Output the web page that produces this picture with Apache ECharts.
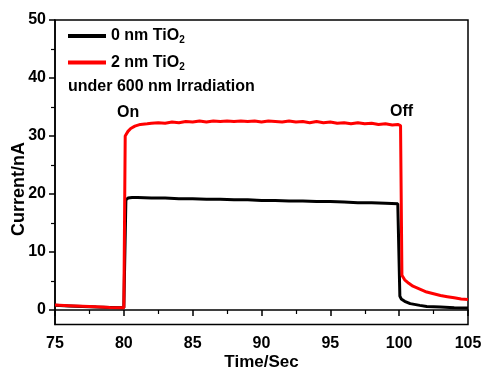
<!DOCTYPE html>
<html>
<head>
<meta charset="utf-8">
<script src="https://cdn.jsdelivr.net/npm/echarts@6/dist/echarts.min.js"></script>
<style>
  html, body { margin: 0; padding: 0; background: #fff; }
  #chart { width: 483px; height: 368px; }
</style>
</head>
<body>
<div id="chart"></div>
<script>
// time (s) and current (nA)
var timeBare = [75, 76, 77, 78, 79, 80, 80.08, 80.15, 80.3, 80.6, 81, 82, 83, 84, 85, 86, 87, 88, 89, 90,
  91, 92, 93, 94, 95, 96, 97, 98, 99, 99.9, 100.0, 100.05, 100.15, 100.4, 100.8, 101.5, 102, 103, 104, 105];
var currentBare = [0.8, 0.7, 0.6, 0.5, 0.45, 0.4, 0.4, 19.0, 19.3, 19.4, 19.4, 19.3, 19.3, 19.2, 19.2, 19.1, 19.1, 19.0, 19.0, 18.9,
  18.9, 18.8, 18.8, 18.7, 18.7, 18.6, 18.5, 18.5, 18.4, 18.3, 18.3, 2.4, 1.9, 1.5, 1.1, 0.8, 0.6, 0.5, 0.4, 0.35];

var timeTiO2 = [75, 76, 77, 78, 79, 80, 80.05, 80.1, 80.3, 80.5, 80.8, 81.2, 81.7, 82, 82.5, 83, 83.5, 84, 84.5, 85,
  85.5, 86, 86.5, 87, 87.5, 88, 88.5, 89, 89.5, 90, 90.5, 91, 91.5, 92, 92.5, 93, 93.5, 94, 94.5, 95,
  95.5, 96, 96.5, 97, 97.5, 98, 98.5, 99, 99.5, 99.9, 100.1, 100.2, 100.4, 100.7, 101, 101.5, 102, 102.5, 103, 103.5,
  104, 104.5, 105];
var currentTiO2 = [0.85, 0.75, 0.65, 0.55, 0.45, 0.4, 0.4, 30.0, 30.8, 31.3, 31.7, 32.0, 32.1, 32.2, 32.3, 32.2, 32.4, 32.3, 32.5, 32.4,
  32.6, 32.4, 32.6, 32.5, 32.6, 32.5, 32.6, 32.5, 32.6, 32.4, 32.6, 32.5, 32.4, 32.6, 32.4, 32.5, 32.3, 32.5, 32.3, 32.4,
  32.2, 32.3, 32.1, 32.3, 32.1, 32.2, 32.0, 32.1, 31.9, 32.0, 31.8, 6.0, 5.2, 4.6, 4.1, 3.6, 3.1, 2.8, 2.5, 2.3,
  2.1, 1.9, 1.8];

var seriesNames = ['0 nm TiO{sub|2}', '2 nm TiO{sub|2}'];
var xTicks = { min: 75, max: 105, interval: 5 };
var yTicks = { min: 0, max: 50, interval: 10 };

function pairs(xs, ys) {
  return xs.map(function (x, i) { return [x, ys[i]]; });
}

var font = 'Liberation Sans';
var chart = echarts.init(document.getElementById('chart'));
chart.setOption({
  backgroundColor: '#fff',
  animation: false,
  grid: [
    { left: 55, right: 15, top: 20, bottom: 43.5, outerBoundsMode: 'none', containLabel: false,
      show: true, borderColor: '#000', borderWidth: 1.5, backgroundColor: 'transparent' },
    // only used for the y ticks, so that 0 sits above the bottom of the frame
    { left: 55, right: 15, top: 20, bottom: 58, outerBoundsMode: 'none', containLabel: false }
  ],
  legend: {
    orient: 'vertical',
    left: 63,
    top: 23,
    itemGap: 9,
    itemWidth: 38,
    itemHeight: 4,
    icon: 'rect',
    data: seriesNames,
    textStyle: {
      fontFamily: font, fontWeight: 'bold', fontSize: 16, color: '#000',
      rich: { sub: { fontFamily: font, fontWeight: 'bold', fontSize: 10, verticalAlign: 'bottom', padding: [9, 0, 0, 0] } }
    }
  },
  xAxis: [
    {
      gridIndex: 0, type: 'value',
      min: xTicks.min, max: xTicks.max, interval: xTicks.interval,
      name: 'Time/Sec', nameLocation: 'middle', nameGap: 29, nameMoveOverlap: false,
      nameTextStyle: { fontFamily: font, fontWeight: 'bold', fontSize: 17, color: '#000' },
      axisLine: { lineStyle: { color: '#000', width: 1.5 } },
      axisTick: { inside: false, length: 6, lineStyle: { color: '#000', width: 1.5 } },
      minorTick: { show: true, splitNumber: 2, length: 4, lineStyle: { color: '#000', width: 1.2 } },
      axisLabel: { fontFamily: font, fontWeight: 'bold', fontSize: 16, color: '#000', margin: 11 },
      splitLine: { show: false }
    },
    { gridIndex: 1, type: 'value', min: xTicks.min, max: xTicks.max, show: false }
  ],
  yAxis: [
    {
      gridIndex: 0, type: 'value', min: -2.5, max: 50,
      axisLine: { show: true, lineStyle: { color: '#000', width: 1.5 } },
      axisTick: { show: false }, axisLabel: { show: false }, splitLine: { show: false }
    },
    {
      gridIndex: 1, type: 'value',
      min: yTicks.min, max: yTicks.max, interval: yTicks.interval,
      name: 'Current/nA', nameLocation: 'middle', nameGap: 27, nameMoveOverlap: false,
      nameTextStyle: { fontFamily: font, fontWeight: 'bold', fontSize: 18, color: '#000', padding: [0, 48, 0, 0] },
      axisLine: { show: false },
      axisTick: { show: true, inside: false, length: 6, lineStyle: { color: '#000', width: 1.5 } },
      minorTick: { show: true, splitNumber: 2, length: 4, lineStyle: { color: '#000', width: 1.2 } },
      axisLabel: { fontFamily: font, fontWeight: 'bold', fontSize: 16, color: '#000', margin: 9 },
      splitLine: { show: false }
    }
  ],
  graphic: [
    { type: 'text', left: 68, top: 79, style: { text: 'under 600 nm Irradiation', font: 'bold 16px "Liberation Sans"', fill: '#000' } },
    { type: 'text', left: 117, top: 105, style: { text: 'On', font: 'bold 16px "Liberation Sans"', fill: '#000' } },
    { type: 'text', left: 390, top: 104, style: { text: 'Off', font: 'bold 16px "Liberation Sans"', fill: '#000' } }
  ],
  series: [
    {
      name: seriesNames[0], type: 'line', xAxisIndex: 0, yAxisIndex: 0,
      data: pairs(timeBare, currentBare),
      symbol: 'none', smooth: false,
      lineStyle: { color: '#000', width: 3 }, itemStyle: { color: '#000' }
    },
    {
      name: seriesNames[1], type: 'line', xAxisIndex: 0, yAxisIndex: 0,
      data: pairs(timeTiO2, currentTiO2),
      symbol: 'none', smooth: false,
      lineStyle: { color: '#ff0000', width: 3 }, itemStyle: { color: '#ff0000' }
    }
  ]
});
</script>
</body>
</html>
